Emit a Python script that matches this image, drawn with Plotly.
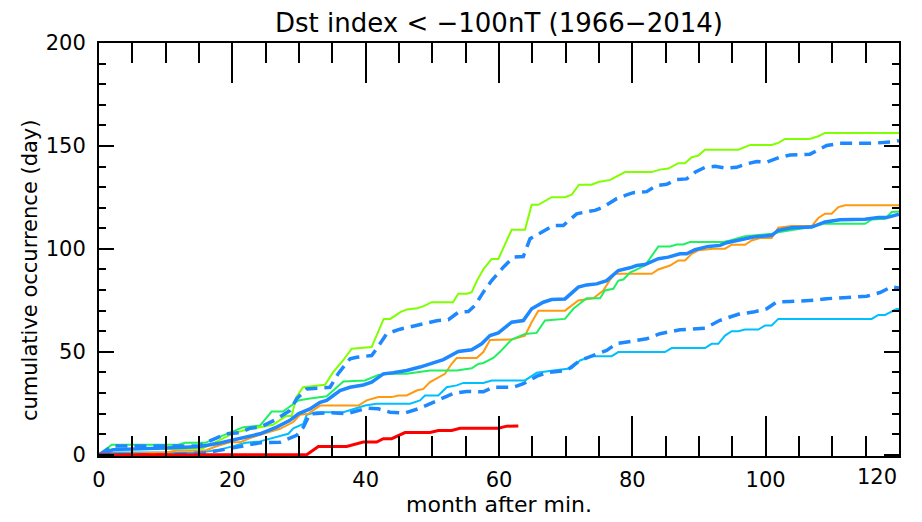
import plotly.graph_objects as go

# ---- data ----
chartreuse_x = [0, 1, 15.5, 17.5, 19, 20.2, 22, 24, 26.1, 28.05, 28.9, 29.6, 30.6, 33.9, 35.1, 36.6, 37.9, 40.9, 42.7, 43.7,
                45.2, 46.2, 47.7, 48.7, 49.9, 53.1, 53.9, 55.2, 55.9, 56.7, 57.7, 58.9, 59.9, 61.9, 63.9, 64.9, 65.9, 67.9,
                69.9, 70.9, 72.0, 73.9, 74.9, 76.7, 78.9, 82.9, 84.1, 85.4, 86.9, 87.9, 88.9, 89.9, 90.9, 95.9, 97.7, 100.9,
                101.9, 102.9, 106.6, 107.9, 108.9, 120]
chartreuse_y = [0, 2.6, 3, 6.3, 8.7, 10.5, 12, 13.3, 14.6, 18.8, 18.8, 28, 32.8, 34, 40, 45.8, 51.5, 52.3, 66, 66,
                69.3, 70.6, 71.2, 72.2, 74.1, 74.1, 78.2, 78.2, 79, 84.6, 90.3, 95.1, 95.1, 109.3, 109.3, 121.4, 121.4, 125.1,
                125.1, 126.3, 131.2, 131.2, 132.5, 133.5, 137.3, 137.3, 138.5, 139, 141.6, 141.6, 144.5, 145.3, 148.2, 148.2, 150.5, 150.5,
                151.5, 153.4, 153.4, 154.7, 156.3, 156.3]

spring_x = [0, 1.9, 11.9, 12.9, 15.9, 19.15, 21.65, 24.15, 25.9, 27.6, 29.9, 31.4, 34.15, 36.65, 39.9, 41.9, 43.65, 46.15,
            48.15, 49.65, 53.65, 55.9, 56.9, 57.65, 59.15, 60.15, 61.9, 63.9, 65.65, 66.9, 69.9, 71.15, 73.15, 75.15, 75.9,
            77.15, 77.9, 78.65, 79.65, 81.9, 83.9, 85.65, 86.65, 87.65, 88.65, 93.65, 94.65, 96.9, 100.9, 101.9, 104.9,
            106.9, 108.65, 114.9, 115.9, 117.9, 118.9, 120]
spring_y = [0, 4.9, 4.9, 5.8, 5.8, 10.2, 13.4, 14.2, 21, 21, 26.4, 27.2, 28.4, 35.6, 36.1, 38.8, 39.3, 39.3,
            40.1, 40.9, 40.9, 42, 44.1, 44.6, 47, 50, 56, 58.7, 59.2, 65.2, 66, 70.9, 76, 76, 79.8,
            80.6, 84.6, 85.1, 88.5, 91.9, 101.2, 101.2, 102.1, 102.1, 103.3, 103.3, 104.1, 106.2, 107.3, 108.1, 109.7,
            110.6, 112.2, 112.2, 114.3, 114.6, 117.9, 118.2]

orange_x = [0, 5, 10, 11.65, 16, 17.5, 19.6, 21.2, 22.65, 24.65, 27.15, 29.15, 30.15, 31.4, 33.15, 38.9, 40.15, 41.9, 43.9,
            44.9, 46.15, 47.65, 48.65, 49.65, 51.9, 52.9, 53.65, 56.65, 57.65, 58.65, 61.9, 63.9, 64.9, 65.9, 69.9,
            71.9, 74.15, 75.65, 76.65, 77.4, 82.9, 83.9, 85.65, 86.9, 87.9, 88.9, 89.9, 92.15, 93.9, 94.9, 96.9, 97.9,
            99.15, 100.9, 101.9, 103.9, 106.9, 107.9, 108.9, 109.9, 110.9, 111.9, 120]
orange_y = [0, 0.6, 1.1, 2.1, 2.1, 4, 6.1, 6.1, 8.1, 10.2, 12.6, 15.9, 19.4, 19.9, 23.9, 23.9, 26.4, 28, 28,
            28.8, 28.8, 31.2, 32, 35.3, 39.3, 44.2, 47, 47, 49.9, 55.7, 56, 57.9, 64.4, 70, 70,
            74.9, 76, 79.8, 85, 87.9, 87.9, 90, 91.9, 94.4, 94.4, 97.6, 99.3, 100.1, 100.1, 102, 102, 104.1,
            105.3, 105.3, 110.3, 111.1, 111.1, 115, 117.1, 117.1, 120.3, 121.2, 121.2]

mean_x = [0, 2.15, 12.15, 15.15, 18.15, 19.65, 22.15, 24.15, 26.65, 28.65, 29.9, 31.65, 33.15, 34.15, 35.15, 36.15, 37.65,
          39.65, 40.9, 42.65, 44.15, 46.15, 48.15, 49.9, 51.65, 53.9, 55.9, 57.4, 58.65, 59.9, 61.9, 63.65, 64.9, 66.65,
          67.9, 69.9, 71.9, 73.15, 74.65, 76.15, 77.9, 79.65, 80.65, 81.9, 83.9, 85.4, 87.15, 88.15, 89.4, 91.4, 93.15,
          94.15, 96.65, 98.15, 100.9, 101.9, 103.9, 106.9, 108.9, 111.15, 114.9, 116.9, 118.15, 120]
mean_y = [0, 2.5, 3.5, 4, 5.7, 6.9, 8.6, 10.2, 13.4, 16.7, 19.9, 22.3, 25.5, 26.4, 28.8, 31.2, 32.8,
          33.9, 35.2, 39.3, 39.8, 40.9, 42.6, 44.5, 46.2, 50.2, 51, 53.9, 57.9, 59.2, 64.4, 65.2, 70.9, 74.1,
          75.4, 75.7, 81.4, 82.5, 83, 84.6, 89.5, 90.8, 91.9, 92.4, 95.2, 96, 97.6, 97.6, 99.6, 101.2, 101.7,
          103, 104.6, 105.8, 106.6, 109, 110.3, 110.6, 113.1, 114.2, 114.4, 115.2, 115.2, 116.8]

upper_x = [0, 2, 15, 16.15, 19.15, 21.15, 22.65, 24.15, 26.5, 28.65, 29.65, 31.15, 33.15, 34.65, 35.9, 37.65, 38.65, 40.9,
           41.65, 43.15, 45.15, 47.65, 49.15, 50.65, 52.4, 53.9, 55.4, 56.4, 57.65, 58.9, 60.65, 62.15, 63.65, 64.65,
           66.4, 68.15, 69.65, 71.65, 72.9, 74.4, 75.65, 77.65, 79.15, 80.15, 82.15, 83.65, 85.15, 86.65, 88.15, 89.4,
           90.9, 92.4, 94.15, 95.65, 97.15, 98.65, 100.15, 102.15, 103.65, 106.65, 108.15, 109.15, 111.15, 116.15,
           119.15, 120]
upper_y = [0, 4.2, 4.2, 6.1, 10.2, 10.7, 12.9, 13.4, 17, 21.5, 27.2, 32, 32.4, 32.8, 39.5, 46.6, 47.4, 48.2,
           51.5, 58.8, 61, 62.8, 63.6, 65.1, 65.6, 69.2, 69.6, 72.5, 79, 84.6, 91.1, 96, 96.3, 104.9,
           108.1, 111.4, 111.4, 117, 117.9, 118.7, 120.3, 124.4, 126.2, 127.3, 127.8, 130.8, 131.4, 133.7, 134, 137.2,
           139.6, 140.1, 139.2, 139.6, 141.3, 142.4, 142.1, 144.5, 145.6, 146, 148.5, 150.2, 151.3, 151.3,
           152.1, 152.5]

lower_x = [0, 4, 10, 16.15, 18.15, 20.15, 22.65, 24.15, 27.15, 29.65, 30.65, 31.65, 34.65, 37.15, 40.15, 41.9, 43.65, 45.9,
           48.15, 49.65, 51.65, 53.15, 55.15, 57.65, 59.15, 62.15, 63.65, 65.9, 67.65, 70.15, 72.15, 74.15, 76.15, 77.65,
           80.15, 82.15, 84.15, 87.15, 90.9, 93.15, 96.15, 98.15, 100.15, 101.65, 103.65, 107.15, 109.15, 112.15, 115.15,
           117.15, 118.9, 120]
lower_y = [0, 0, 0, 1, 2.2, 3.7, 5.3, 5.8, 6.1, 9.4, 13.4, 19.9, 20.4, 19.9, 22.6, 22.3, 20.7, 20.3,
           22.6, 24.8, 27.5, 29.8, 30.7, 30.6, 32.8, 32.8, 34.5, 38.5, 40.1, 40.9, 45.8, 48.2, 50.7, 54,
           55.5, 56.3, 58.8, 60.7, 61.5, 65.3, 68.5, 69.3, 70.9, 74.2, 74.5, 75, 75.8, 76.6, 77,
           78.8, 81.6, 81]

sky_x = [0, 2.15, 15.15, 18.15, 20.15, 22, 24.15, 26.65, 28.4, 29.15, 30.65, 31.15, 32.65, 36.65, 38.15, 39.9, 41.65, 46.65,
         48.15, 48.9, 50.9, 52.15, 53.65, 54.65, 57.65, 58.9, 63.9, 65.65, 68.15, 70.9, 72.15, 73.9, 76.9, 77.9, 84.9,
         85.9, 90.9, 91.9, 92.9, 93.9, 94.9, 95.9, 96.9, 98.9, 99.9, 100.9, 101.9, 115.9, 116.9, 117.9, 119.65, 120]
sky_y = [0, 1.1, 1.1, 2.5, 4.2, 5.8, 6.5, 8.6, 10.2, 12.9, 15, 19.4, 20.7, 20.7, 22.3, 23.9, 24.8, 24.8,
         26.4, 28.8, 28.8, 32.8, 33.7, 34.9, 34.9, 36.1, 36.1, 39.8, 40.9, 42, 45.8, 47.9, 47.9, 49.9, 49.9,
         51.8, 51.8, 53.9, 53.9, 57.9, 60, 60, 60.8, 60.8, 62.8, 62.8, 66, 66, 67.9, 67.9, 70.8, 70.8]

red_x = [0, 31.15, 32.9, 37.15, 39.65, 41.65, 42.65, 43.9, 45.9, 49.65, 50.9, 52.9, 54.15, 59.9, 61.15, 62.9]
red_y = [0, 0, 4, 4, 6.2, 6.2, 7.8, 7.8, 10.8, 10.8, 11.8, 11.8, 12.9, 12.9, 13.9, 14]

x_tick_vals = [0, 20, 40, 60, 80, 100, 120]
x_tick_text = ["0", "20", "40", "60", "80", "100", "120"]
y_tick_vals = [0, 50, 100, 150, 200]
y_tick_text = ["0", "50", "100", "150", "200"]

title_text = "Dst index < \u2212100nT (1966\u22122014)"
x_title = "month after min."
y_title = "cumulative occurrence (day)"

FONT = "DejaVu Sans"
TICKFONT = dict(family=FONT, size=21, color="black")

fig = go.Figure()

def add(x, y, color, width, dash="solid"):
    fig.add_trace(go.Scatter(x=x, y=y, mode="lines", showlegend=False, hoverinfo="skip",
                             line=dict(color=color, width=width, dash=dash)))

add(sky_x, sky_y, "#00BFFF", 2)
add(orange_x, orange_y, "#FF9A10", 2)
add(spring_x, spring_y, "#20F060", 2)
add(chartreuse_x, chartreuse_y, "#80FF00", 2)
add(lower_x, lower_y, "#1E88FF", 3.5, "12px,7px")
add(upper_x, upper_y, "#1E88FF", 3.5, "12px,7px")
add(mean_x, mean_y, "#1E88FF", 3.5)
add(red_x, red_y, "#FF0000", 3)

axis_common = dict(showgrid=False, zeroline=False, showline=True, linecolor="black", linewidth=2,
                   mirror="ticks", ticks="inside", tickcolor="black", tickwidth=2, automargin=False,
                   tickfont=TICKFONT)

# the last x label sits inside the frame's right end (as in the reference), so it is drawn as an annotation
fig.update_xaxes(range=[0, 120], tickmode="array", tickvals=x_tick_vals,
                 ticktext=x_tick_text[:-1] + [""],
                 ticklen=40, ticklabelstandoff=4,
                 minor=dict(dtick=5, tick0=0, ticklen=20, ticks="inside", tickcolor="black", tickwidth=2, showgrid=False),
                 title=dict(text=x_title, font=dict(family=FONT, size=22, color="black"), standoff=3),
                 **axis_common)
fig.update_yaxes(range=[-0.6, 200], tickmode="array", tickvals=y_tick_vals, ticktext=y_tick_text,
                 ticklen=15, ticklabelstandoff=7,
                 minor=dict(dtick=10, tick0=0, ticklen=7, ticks="inside", tickcolor="black", tickwidth=2, showgrid=False),
                 **axis_common)

# The page body has an 8px margin; the figure is sized so the plot frame lands where the reference has it.
fig.update_layout(
    width=914, height=514,
    margin=dict(l=91, r=23, t=35, b=66),
    paper_bgcolor="white", plot_bgcolor="white",
    title=dict(text=title_text, x=491 / 914, xanchor="center", y=1 - 15 / 514, yanchor="middle", yref="container",
               font=dict(family=FONT, size=26, color="black")),
    annotations=[
        dict(text=y_title, textangle=-90, xref="paper", yref="paper",
             x=-69 / 800, y=186 / 413, xanchor="center", yanchor="middle", showarrow=False,
             font=dict(family=FONT, size=21, color="black")),
        dict(text=x_tick_text[-1], xref="x", yref="paper", x=x_tick_vals[-1], y=0,
             xanchor="right", yanchor="middle", yshift=-21, showarrow=False, font=TICKFONT),
    ],
)

fig.write_html("out.html")
